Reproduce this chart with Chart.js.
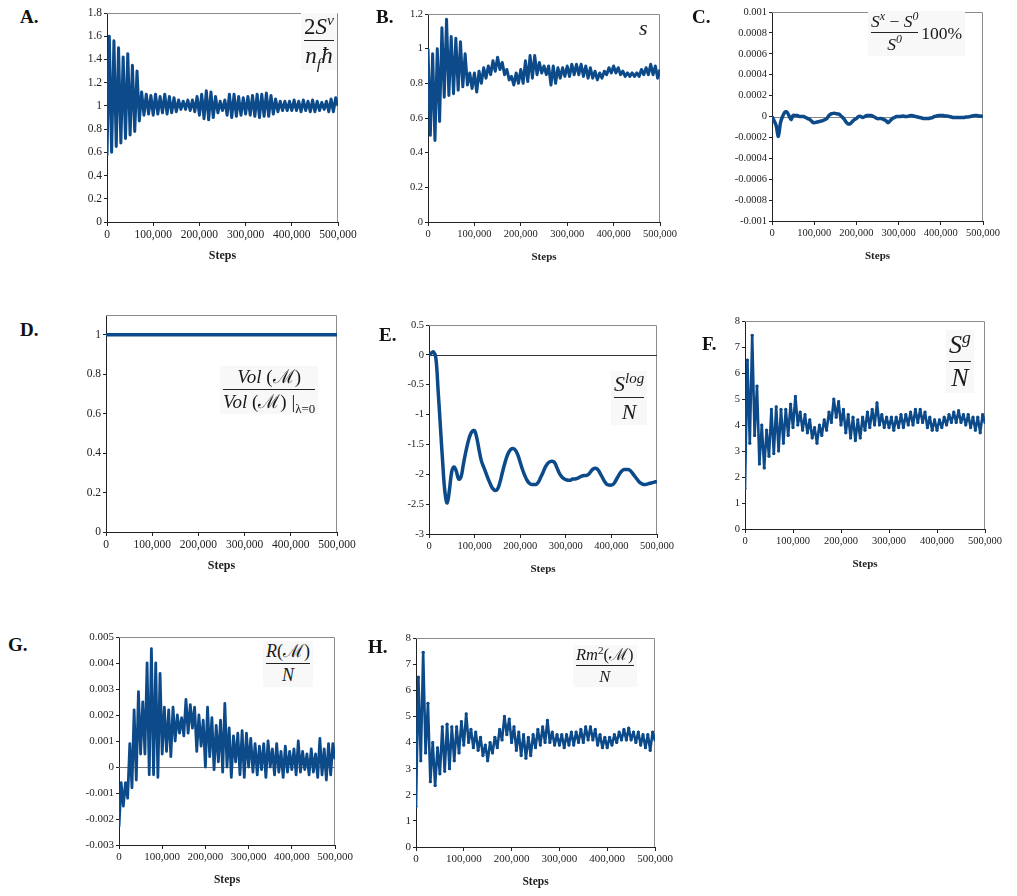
<!DOCTYPE html>
<html>
<head>
<meta charset="utf-8">
<script src="https://cdn.jsdelivr.net/npm/chart.js@4.4.1/dist/chart.umd.min.js"></script>
<style>
  body { margin:0; background:#fff; width:1017px; height:896px; position:relative; overflow:hidden;
         font-family:"Liberation Serif","Times New Roman",serif; }
  canvas { position:absolute; }
  .lbl { position:absolute; font-weight:bold; font-size:19px; line-height:19px; color:#111; }
  .eq { position:absolute; display:flex; align-items:center; color:#1a1a1a; background:#f8f8f8; padding:1px 3px;
        font-family:"Liberation Serif","DejaVu Serif",serif; }
  .frac { display:flex; flex-direction:column; align-items:center; line-height:1.1; }
  .frac .bar { align-self:stretch; height:0; border-top:1px solid #222; margin:1px 0 2px; }
  sup, sub { font-size:0.68em; line-height:0; font-style:italic; }
</style>
</head>
<body>
<canvas id="cA"></canvas><canvas id="cB"></canvas><canvas id="cC"></canvas>
<canvas id="cD"></canvas><canvas id="cE"></canvas><canvas id="cF"></canvas>
<canvas id="cG"></canvas><canvas id="cH"></canvas>

<div class="lbl" style="left:20px;top:7px">A.</div>
<div class="lbl" style="left:376px;top:7px">B.</div>
<div class="lbl" style="left:692px;top:7px">C.</div>
<div class="lbl" style="left:20px;top:320px">D.</div>
<div class="lbl" style="left:379px;top:325px">E.</div>
<div class="lbl" style="left:702px;top:334px">F.</div>
<div class="lbl" style="left:8px;top:635px">G.</div>
<div class="lbl" style="left:368px;top:637px">H.</div>

<div class="eq" style="left:301px;top:13px;font-size:23px">
  <div class="frac"><span>2<i>S</i><sup>v</sup></span><span class="bar"></span><span><i>n<sub>f</sub>ħ</i></span></div>
</div>
<div class="eq" style="left:636px;top:14px;font-size:22px;background:none"><i>s</i></div>
<div class="eq" style="left:868px;top:11px;font-size:17.5px">
  <div class="frac"><span><i>S</i><sup>x</sup> − <i>S</i><sup>0</sup></span><span class="bar"></span><span><i>S</i><sup>0</sup></span></div>
  <span style="margin-left:3px">100%</span>
</div>
<div class="eq" style="left:220px;top:366px;font-size:19px">
  <div class="frac"><span><i>Vol</i> (ℳ)</span><span class="bar"></span><span><i>Vol</i> (ℳ) |<sub style="font-style:normal">λ=0</sub></span></div>
</div>
<div class="eq" style="left:611px;top:371px;font-size:22px">
  <div class="frac"><span><i>S</i><sup>log</sup></span><span class="bar"></span><span><i>N</i></span></div>
</div>
<div class="eq" style="left:946px;top:330px;font-size:26px">
  <div class="frac"><span><i>S</i><sup>g</sup></span><span class="bar"></span><span><i>N</i></span></div>
</div>
<div class="eq" style="left:263px;top:641px;font-size:18px">
  <div class="frac"><span><i>R</i>(ℳ)</span><span class="bar"></span><span><i>N</i></span></div>
</div>
<div class="eq" style="left:573px;top:645px;font-size:16.5px">
  <div class="frac"><span><i>Rm</i><sup style="font-style:normal">2</sup>(ℳ)</span><span class="bar"></span><span><i>N</i></span></div>
</div>

<script>
// simulation steps, one reading every 5,000 steps
const steps = Array.from({length: 101}, (_, i) => i * 5000);

// A. 2S^v / (n_f hbar)
const aVals = [0.57,1.60,0.60,1.56,0.65,1.50,0.68,1.42,0.72,1.45,
  0.75,1.35,0.78,1.30,0.87,1.12,0.92,1.10,0.93,1.09,
  0.92,1.10,0.93,1.08,0.94,1.10,0.93,1.08,0.94,1.07,
  0.95,1.05,0.97,1.04,0.97,1.05,0.96,1.05,0.95,1.08,
  0.92,1.10,0.89,1.13,0.88,1.12,0.90,1.08,0.94,1.04,
  0.96,1.05,0.92,1.10,0.90,1.10,0.91,1.08,0.92,1.07,
  0.93,1.08,0.92,1.09,0.91,1.10,0.90,1.10,0.91,1.11,
  0.91,1.09,0.93,1.06,0.95,1.04,0.96,1.04,0.96,1.04,
  0.96,1.05,0.96,1.04,0.95,1.05,0.96,1.04,0.95,1.05,
  0.95,1.04,0.96,1.03,0.97,1.04,0.95,1.06,0.95,1.07,
  1.00];

// B. s
const bVals = [1.00,0.50,0.97,0.47,1.00,0.58,1.12,0.72,1.17,0.73,
  1.07,0.74,1.06,0.76,1.04,0.78,0.97,0.79,0.86,0.77,
  0.86,0.75,0.87,0.80,0.89,0.83,0.90,0.85,0.93,0.87,
  0.95,0.88,0.92,0.85,0.88,0.82,0.84,0.79,0.86,0.80,
  0.88,0.80,0.93,0.81,0.96,0.83,0.96,0.85,0.92,0.86,
  0.90,0.85,0.90,0.79,0.90,0.80,0.89,0.83,0.89,0.84,
  0.90,0.84,0.91,0.85,0.91,0.85,0.91,0.84,0.90,0.83,
  0.89,0.83,0.87,0.82,0.86,0.83,0.87,0.85,0.89,0.86,
  0.90,0.86,0.89,0.85,0.87,0.84,0.86,0.84,0.86,0.84,
  0.86,0.84,0.88,0.85,0.89,0.85,0.91,0.85,0.90,0.83,
  0.88];

// C. (S^x - S^0) / S^0 100%
const cVals = [0,-0.00004,-0.00009,-0.00019,-0.00006,0,0.00004,0.000045,0.00001,-0.00003,
  0.00001,0.00001,0.00001,0,0,0,-0.00001,-0.00002,-0.00003,-0.00005,
  -0.00006,-0.000055,-0.00005,-0.000045,-0.00004,-0.00003,-0.00002,0.00001,0.000025,0.00003,
  0.00003,0.000025,0.00002,0,-0.00002,-0.00005,-0.00007,-0.00007,-0.00005,-0.00003,
  -0.00002,0,0,-0.00001,0,0.00001,0.00001,0.00001,0,-0.00001,
  -0.00002,-0.00002,-0.00002,-0.00003,-0.00004,-0.00006,-0.00004,-0.00002,-0.00001,0,
  0,0,0.000005,0,0,0.000005,0.00001,0.000005,0,-0.000005,
  -0.00001,-0.000015,-0.00002,-0.00002,-0.00002,-0.000015,-0.00001,0,0.000005,0.00001,
  0.00001,0.00001,0.000005,0.000005,0,-0.000005,-0.00001,-0.00001,-0.00001,-0.00001,
  -0.00001,-0.00001,-0.000005,-0.000005,0,0.000005,0.00001,0.00001,0.000005,0.000005,
  0];

// D. Vol(M) / Vol(M)|lambda=0
const dSteps = [0, 500000];
const dVals = [1, 1];

// E. S^log / N
const eVals = [0.00,0.03,0.05,-0.05,-0.60,-1.20,-1.80,-2.30,-2.48,-2.25,
  -1.95,-1.88,-1.95,-2.08,-2.05,-1.85,-1.65,-1.48,-1.35,-1.28,
  -1.27,-1.40,-1.60,-1.78,-1.88,-1.98,-2.08,-2.17,-2.24,-2.27,
  -2.25,-2.15,-2.00,-1.85,-1.72,-1.63,-1.58,-1.57,-1.60,-1.68,
  -1.80,-1.92,-2.02,-2.10,-2.15,-2.17,-2.17,-2.17,-2.13,-2.05,
  -1.97,-1.88,-1.82,-1.79,-1.78,-1.80,-1.88,-1.97,-2.03,-2.07,
  -2.09,-2.10,-2.10,-2.08,-2.08,-2.07,-2.05,-2.03,-2.02,-2.02,
  -2.00,-1.95,-1.91,-1.90,-1.92,-1.98,-2.05,-2.12,-2.17,-2.18,
  -2.18,-2.16,-2.10,-2.03,-1.97,-1.93,-1.92,-1.92,-1.93,-1.97,
  -2.02,-2.07,-2.12,-2.15,-2.17,-2.17,-2.16,-2.15,-2.14,-2.13,
  -2.12];

// F. S^g / N
const fVals = [1.55,6.5,3.3,7.45,3.6,5.5,2.5,4.0,2.35,3.8,
  2.8,4.6,2.9,4.7,3.0,4.6,3.3,4.6,3.6,4.8,
  3.9,5.1,4.0,4.5,3.8,4.4,3.7,4.2,3.5,3.9,
  3.3,4.0,3.6,4.2,3.8,4.5,4.1,5.0,4.3,4.9,
  4.0,4.6,3.7,4.4,3.5,4.3,3.4,4.2,3.5,4.3,
  3.8,4.5,3.9,4.6,4.0,4.85,4.0,4.4,3.9,4.3,
  3.9,4.3,3.8,4.3,3.9,4.4,3.9,4.4,4.0,4.5,
  4.0,4.6,4.1,4.6,4.1,4.5,3.9,4.3,3.8,4.2,
  3.8,4.2,3.9,4.3,4.0,4.4,4.1,4.5,4.1,4.55,
  4.1,4.4,4.0,4.4,3.9,4.3,3.8,4.3,3.7,4.4,
  4.1];

// G. R(M) / N
const gVals = [-0.0023,-0.0006,-0.0015,-0.0006,-0.0012,0.0009,-0.0008,0.0022,-0.0005,0.0029,
  0.0005,0.0025,0.0005,0.0040,-0.0003,0.00455,-0.0003,0.0040,-0.0004,0.0036,
  0.0005,0.0023,0.0006,0.0022,0.0004,0.0023,0.0010,0.0020,0.0013,0.0019,
  0.0012,0.0026,0.0013,0.0024,0.0015,0.0023,0.0006,0.0020,0.0008,0.0018,
  0.0000,0.0023,0.0004,0.0019,-0.0001,0.0016,0.0002,0.0018,-0.0002,0.00245,
  0.0000,0.0015,-0.0004,0.0012,0.0002,0.0013,-0.0003,0.0014,-0.0004,0.0013,
  0.0000,0.0011,-0.0002,0.0009,-0.0003,0.0008,-0.0001,0.0009,-0.0004,0.0010,
  0.0000,0.0007,-0.0003,0.0009,-0.0002,0.0006,-0.0004,0.0008,-0.0002,0.0006,
  -0.0001,0.0007,-0.0003,0.0010,-0.0002,0.0006,-0.0001,0.0005,-0.0003,0.0007,
  -0.0002,0.0005,-0.0004,0.0011,-0.0003,0.0007,-0.0005,0.0009,-0.0003,0.0009,
  0.0003];

// H. Rm^2(M) / N
const hVals = [1.55,6.5,3.3,7.45,3.6,5.5,2.5,4.0,2.35,3.8,
  2.8,4.6,2.9,4.7,3.0,4.6,3.3,4.6,3.6,4.8,
  3.9,5.1,4.0,4.5,3.8,4.4,3.7,4.2,3.5,3.9,
  3.3,4.0,3.6,4.2,3.8,4.5,4.1,5.0,4.3,4.9,
  4.0,4.6,3.7,4.4,3.5,4.3,3.4,4.2,3.5,4.3,
  3.8,4.5,3.9,4.6,4.0,4.85,4.0,4.4,3.9,4.3,
  3.9,4.3,3.8,4.3,3.9,4.4,3.9,4.4,4.0,4.5,
  4.0,4.6,4.1,4.6,4.1,4.5,3.9,4.3,3.8,4.2,
  3.8,4.2,3.9,4.3,4.0,4.4,4.1,4.5,4.1,4.55,
  4.1,4.4,4.0,4.4,3.9,4.3,3.8,4.3,3.7,4.4,
  4.1];

const blue = '#0c4a8a';
const serif = '"Liberation Serif", "Times New Roman", serif';

// gray top/right frame + optional zero line
const frame = {
  id: 'frame',
  beforeDatasetsDraw(chart, args, opts) {
    const {ctx, chartArea: a, scales} = chart;
    ctx.save();
    ctx.lineWidth = 1;
    ctx.strokeStyle = '#8c8c8c';
    ctx.beginPath();
    ctx.moveTo(a.left, a.top + 0.5);
    ctx.lineTo(a.right - 0.5, a.top + 0.5);
    ctx.lineTo(a.right - 0.5, a.bottom);
    ctx.stroke();
    if (opts.zero) {
      const yz = Math.round(scales.y.getPixelForValue(0)) + 0.5;
      ctx.strokeStyle = opts.zero;
      ctx.beginPath();
      ctx.moveTo(a.left, yz);
      ctx.lineTo(a.right, yz);
      ctx.stroke();
    }
    ctx.restore();
  }
};

function panel(id, box, xs, vals, y, look) {
  const [L, T, R, B] = box;
  const cv = document.getElementById(id);
  cv.width = R - L + 90;
  cv.height = B - T + 55;
  cv.style.left = (L - 60) + 'px';
  cv.style.top = (T - 10) + 'px';
  const fs = look.fs;
  new Chart(cv, {
    type: 'line',
    data: {
      datasets: [{
        data: xs.map((x, i) => ({x: x, y: vals[i]})),
        borderColor: blue,
        backgroundColor: blue,
        borderWidth: look.w,
        borderJoinStyle: 'round',
        pointRadius: look.r || 0,
        pointBorderWidth: 0,
        tension: look.t || 0
      }]
    },
    options: {
      responsive: false,
      animation: false,
      layout: {padding: {left: 0, top: 10, right: 30, bottom: 0}},
      plugins: {legend: {display: false}, tooltip: {enabled: false}, frame: {zero: look.zero}},
      scales: {
        x: {
          type: 'linear', min: 0, max: 500000,
          ticks: {stepSize: 100000, autoSkip: false, maxRotation: 0, padding: 2, color: '#222',
                  font: {family: serif, size: fs}, callback: v => v.toLocaleString('en-US')},
          grid: {drawOnChartArea: false, tickLength: 4, tickColor: '#222'},
          border: {color: '#222', width: 1},
          title: {display: true, text: 'Steps', color: '#222',
                  font: {family: serif, size: fs + 0.5, weight: 'bold'}, padding: {top: 0, bottom: 3.5}},
          afterFit: s => { s.height = 45; s.paddingLeft = 0; s.paddingRight = 0; }
        },
        y: {
          min: y.min, max: y.max,
          ticks: {stepSize: y.step, includeBounds: y.bounds !== false, padding: 2, color: '#222',
                  font: {family: serif, size: fs}, callback: v => String(+v.toFixed(6))},
          grid: {drawOnChartArea: false, tickLength: 3, tickColor: '#222'},
          border: {color: '#222', width: 1},
          afterFit: s => { s.width = 60; s.paddingTop = 0; s.paddingBottom = 0; }
        }
      }
    },
    plugins: [frame]
  });
}

panel('cA', [107, 13, 338, 222], steps, aVals, {min: 0, max: 1.8, step: 0.2}, {w: 3, fs: 11.5});
panel('cB', [428, 14, 660, 222], steps, bVals, {min: 0, max: 1.2, step: 0.2}, {w: 3, fs: 10.5});
panel('cC', [772, 12, 983, 221], steps, cVals, {min: -0.001, max: 0.001, step: 0.0002}, {w: 3.5, t: 0.3, fs: 10.5, zero: '#888'});
panel('cD', [106, 315, 337, 532], dSteps, dVals, {min: 0, max: 1.1, step: 0.2, bounds: false}, {w: 3.5, fs: 11.5});
panel('cE', [429, 325, 657, 534], steps, eVals, {min: -3, max: 0.5, step: 0.5}, {w: 3.5, t: 0.4, fs: 10.5, zero: '#333'});
panel('cF', [745, 321, 985, 529], steps, fVals, {min: 0, max: 8, step: 1}, {w: 2.6, r: 1.6, fs: 10.5});
panel('cG', [119, 637, 335, 845], steps, gVals, {min: -0.003, max: 0.005, step: 0.001}, {w: 2.8, fs: 11, zero: '#777'});
panel('cH', [416, 638, 655, 847], steps, hVals, {min: 0, max: 8, step: 1}, {w: 2.6, r: 1.6, fs: 11});
</script>
</body>
</html>
